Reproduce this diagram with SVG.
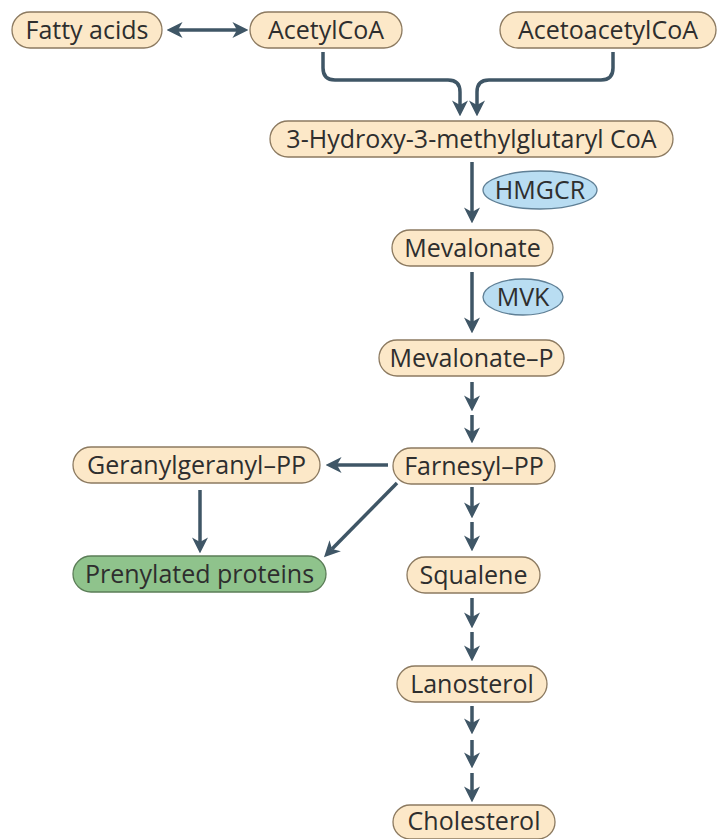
<svg xmlns="http://www.w3.org/2000/svg" width="718" height="839" viewBox="0 0 718 839">
<style>
.box{fill:#fce8c8;stroke:#8c7a60;stroke-width:1.3}
.green{fill:#8fc38c;stroke:#5b7d57;stroke-width:1.3}
.enz{fill:#b9ddf2;stroke:#5f7f95;stroke-width:1.3}
.t{font-family:"Open Sans","Noto Sans",sans-serif;font-size:25px;fill:#2e2e2e;text-anchor:middle}
.c{fill:none;stroke:#3f5666;stroke-width:3.5;marker-end:url(#ah)}
</style>
<defs>
<marker id="ah" markerUnits="userSpaceOnUse" markerWidth="16" markerHeight="16" viewBox="0 0 14 14" refX="4" refY="7" orient="auto-start-reverse">
<path d="M0,0 L14,7 L0,14 L4,7 z" fill="#3f5666"/>
</marker>
</defs>
<rect width="718" height="839" fill="#ffffff"/>
<g id="connectors">
<path class="c" d="M237,30 H178" style="marker-start:url(#ah)"/>
<path class="c" d="M323,52 V68 Q323,80 335,80 H448 Q460,80 460,92 V105"/>
<path class="c" d="M613,52 V68 Q613,80 601,80 H489 Q477,80 477,92 V105"/>
<path class="c" d="M472,162 V212"/>
<path class="c" d="M472,272 V322"/>
<path class="c" d="M472,382 V400"/>
<path class="c" d="M472,415 V432"/>
<path class="c" d="M472,487 V507"/>
<path class="c" d="M472,522 V540"/>
<path class="c" d="M472,598 V617"/>
<path class="c" d="M472,632 V650"/>
<path class="c" d="M472,706 V723"/>
<path class="c" d="M472,740 V757"/>
<path class="c" d="M472,773 V791"/>
<path class="c" d="M388,465 H337"/>
<path class="c" d="M397,483 L332,549"/>
<path class="c" d="M200,490 V542"/>
</g>
<g id="fatty-acids"><rect class="box" x="12" y="12" width="150" height="36" rx="18"/><text class="t" x="87" y="39">Fatty acids</text></g>
<g id="acetylcoa"><rect class="box" x="250" y="12" width="152" height="36" rx="18"/><text class="t" x="326" y="39">AcetylCoA</text></g>
<g id="acetoacetylcoa"><rect class="box" x="500" y="12" width="216" height="36" rx="18"/><text class="t" x="608" y="39">AcetoacetylCoA</text></g>
<g id="hmgcoa"><rect class="box" x="270" y="121" width="403" height="36" rx="18"/><text class="t" x="471.5" y="148">3-Hydroxy-3-methylglutaryl CoA</text></g>
<g id="hmgcr"><ellipse class="enz" cx="540" cy="190" rx="57" ry="19"/><text class="t" x="540" y="199">HMGCR</text></g>
<g id="mevalonate"><rect class="box" x="392" y="230" width="161" height="36" rx="18"/><text class="t" x="472.5" y="257">Mevalonate</text></g>
<g id="mvk"><ellipse class="enz" cx="523" cy="297" rx="40" ry="18"/><text class="t" x="523" y="306">MVK</text></g>
<g id="mevalonate-p"><rect class="box" x="379" y="340" width="185" height="36" rx="18"/><text class="t" x="471.5" y="367">Mevalonate–P</text></g>
<g id="farnesyl-pp"><rect class="box" x="393" y="448" width="162" height="36" rx="18"/><text class="t" x="474" y="475">Farnesyl–PP</text></g>
<g id="geranylgeranyl-pp"><rect class="box" x="73" y="447" width="247" height="36" rx="18"/><text class="t" x="196.5" y="474">Geranylgeranyl–PP</text></g>
<g id="prenylated-proteins"><rect class="green" x="73" y="556" width="253" height="36" rx="18"/><text class="t" x="199.5" y="583">Prenylated proteins</text></g>
<g id="squalene"><rect class="box" x="407" y="557" width="133" height="36" rx="18"/><text class="t" x="473.5" y="584">Squalene</text></g>
<g id="lanosterol"><rect class="box" x="397" y="666" width="150" height="36" rx="18"/><text class="t" x="472" y="693">Lanosterol</text></g>
<g id="cholesterol"><rect class="box" x="393" y="805" width="162" height="34" rx="17"/><text class="t" x="474" y="830">Cholesterol</text></g>
</svg>
